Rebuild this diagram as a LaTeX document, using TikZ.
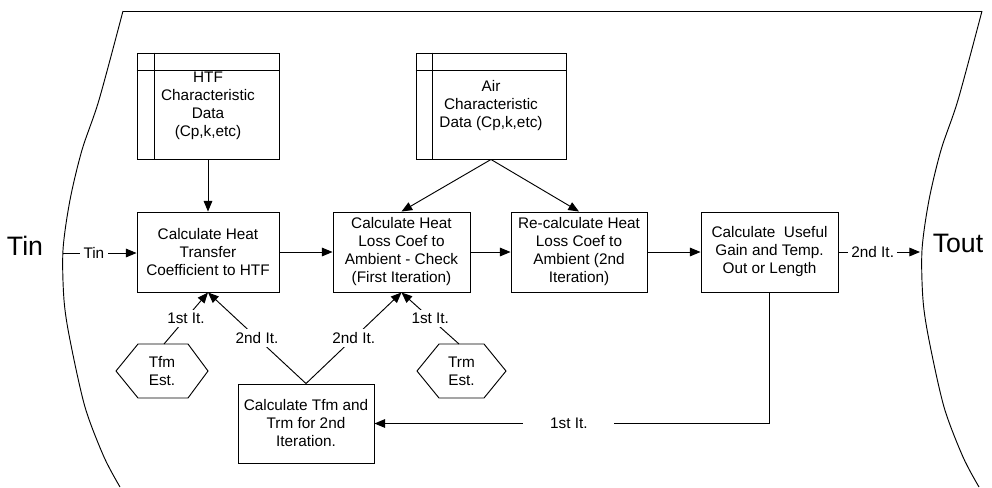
\documentclass[tikz,border=0pt]{standalone}
\usepackage{fontspec}
\setmainfont{Liberation Sans}
\usetikzlibrary{arrows.meta}
\begin{document}
\begin{tikzpicture}[x=0.75pt,y=-0.75pt,
  line width=0.7pt,
  txt/.style={font=\fontsize{11.5pt}{13.5pt}\selectfont},
  big/.style={font=\fontsize{20pt}{24pt}\selectfont},
  proc/.style={txt, draw, align=center, inner sep=0pt, minimum height=60pt},
  databox/.style={txt, draw, align=center, inner sep=0pt, minimum height=79.5pt},
  lbl/.style={txt, fill=white, inner sep=2.5pt},
  arr/.style={-{Triangle[length=8pt,width=6.5pt]}},
]
\useasboundingbox (0,0) rectangle (992,487);
% outer boundary
\draw (123,11) -- (982,11);
\draw plot[smooth] coordinates {(123,11) (99,100) (82,150) (70,200) (63,250) (64,300) (70,340) (85,407) (104,457) (120,487)};
\draw[shift={(859,0)}] plot[smooth] coordinates {(123,11) (99,100) (82,150) (70,200) (63,250) (64,300) (70,340) (85,407) (104,457) (120,487)};

% big labels
\node[big] (tin) at (25,246) {Tin};
\node[big] (tout) at (958,243) {Tout};

% data boxes
\node[databox, minimum width=106.5pt] (htfd) at (208,106) {HTF\\Characteristic\\Data\\(Cp,k,etc)};
\draw ([xshift=13.5pt]htfd.north west) -- ([xshift=13.5pt]htfd.south west);
\draw ([yshift=-13.5pt]htfd.north west) -- ([yshift=-13.5pt]htfd.north east);
\node[databox, minimum width=112.5pt] (aird) at (491,106) {Air\\Characteristic\\Data (Cp,k,etc)};
\draw ([xshift=12.75pt]aird.north west) -- ([xshift=12.75pt]aird.south west);
\draw ([yshift=-13.5pt]aird.north west) -- ([yshift=-13.5pt]aird.north east);

% process boxes
\node[proc, minimum width=106.5pt] (htfc) at (208,252) {Calculate Heat\\Transfer\\Coefficient to HTF};
\node[proc, minimum width=102.75pt] (lossc) at (401.5,252) {Calculate Heat\\Loss Coef to\\Ambient - Check\\(First Iteration)};
\node[proc, minimum width=102pt] (recalc) at (579,252) {Re-calculate Heat\\Loss Coef to\\Ambient (2nd\\Iteration)};
\node[proc, minimum width=102.75pt] (useful) at (769.5,252) {Calculate\ \ Useful\\Gain and Temp.\\Out or Length};
\node[proc, minimum width=102pt, minimum height=59.25pt] (tfmc) at (306,423.5) {Calculate Tfm and\\Trm for 2nd\\Iteration.};

% hexagons
\node[txt, align=center, inner sep=0pt] (tfmest) at (162,371) {Tfm\\Est.};
\draw (116,371) -- (138,344) -- (188,344) -- (208,371) -- (188,398) -- (138,398) -- cycle;
\coordinate (tfmtop) at (164,344);
\node[txt, align=center, inner sep=0pt] (trmest) at (461.5,371) {Trm\\Est.};
\draw (417,371) -- (439,344) -- (484,344) -- (506,371) -- (484,398) -- (439,398) -- cycle;
\coordinate (trmtop) at (459,344);

% in/out points
\coordinate (tinpt) at (63,253);
\coordinate (toutpt) at (920,252);

% connectors
\draw[arr] (tinpt) -- node[lbl, pos=0.42] {Tin} (htfc.west |- tinpt);
\draw[arr] (htfd.south) -- (htfc.north);
\draw[arr] (htfc.east) -- (lossc.west);
\draw[arr] (lossc.east) -- (recalc.west);
\draw[arr] (recalc.east) -- (useful.west);
\draw[arr] (useful.east) -- node[lbl, pos=0.42] {2nd It.} (toutpt);
\draw[arr] (aird.south) -- (lossc.north);
\draw[arr] (aird.south) -- (recalc.north);
\draw[arr] (tfmtop) -- node[lbl, pos=0.5] {1st It.} (htfc.south);
\draw[arr] (tfmc.north) -- node[lbl, pos=0.5] {2nd It.} (htfc.south);
\draw[arr] (tfmc.north) -- node[lbl, pos=0.5] {2nd It.} (lossc.south);
\draw[arr] (trmtop) -- node[lbl, pos=0.5] {1st It.} (lossc.south);
\draw[arr] (useful.south) |- node[lbl, pos=0.754, inner xsep=20pt] {1st It.} (tfmc.east);
\end{tikzpicture}
\end{document}
